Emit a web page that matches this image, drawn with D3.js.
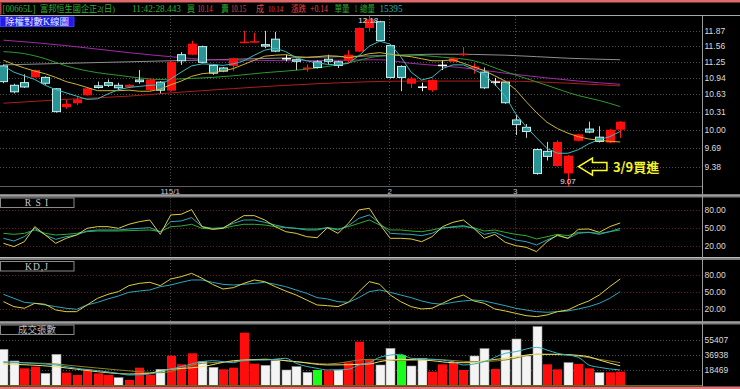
<!DOCTYPE html>
<html><head><meta charset="utf-8">
<script src="https://cdn.jsdelivr.net/npm/d3@7/dist/d3.min.js"></script>
<style>html,body{margin:0;padding:0;background:#000;overflow:hidden;}svg{display:block}</style>
</head><body>
<svg id="chart" width="740" height="389"></svg>
<script>
// ---------------- data ----------------
const opens  = [11.18,10.81,10.86,10.95,10.96,10.745,10.40,10.47,10.615,10.80,10.86,10.81,10.77,10.91,10.71,10.87,10.70,11.40,11.39,11.56,11.19,11.14,11.17,11.63,11.64,11.60,11.71,11.31,11.30,11.11,11.26,11.31,11.26,11.27,11.45,11.93,12.07,11.58,11.17,10.83,10.765,10.71,11.18,11.25,11.39,11.12,11.06,10.86,10.87,10.18,10.05,9.67,9.64,9.39,9.27,9.81,10.02,9.88,9.78,10.00];
const highs  = [11.20,10.83,11.01,11.10,10.97,10.75,10.53,10.60,10.75,10.87,10.91,10.85,10.82,11.09,10.92,10.88,11.26,11.44,11.67,11.57,11.20,11.15,11.33,11.87,11.83,11.87,11.85,11.39,11.31,11.20,11.28,11.39,11.27,11.48,11.94,12.18,12.08,11.59,11.18,10.96,10.85,10.91,11.28,11.33,11.54,11.22,11.14,10.94,10.88,10.26,10.10,9.68,9.79,9.82,9.57,9.93,10.14,10.06,10.01,10.15];
const lows   = [10.84,10.65,10.75,10.94,10.81,10.30,10.37,10.44,10.61,10.74,10.77,10.71,10.76,10.83,10.70,10.65,10.69,11.19,11.38,11.22,11.00,11.05,11.07,11.62,11.62,11.52,11.44,11.26,11.09,11.06,11.12,11.20,11.13,11.22,11.44,11.85,11.65,10.93,10.69,10.75,10.69,10.68,11.09,11.24,11.36,11.02,10.73,10.79,10.46,9.91,9.86,9.25,9.48,9.38,9.07,9.80,9.94,9.78,9.77,9.86];
const closes = [10.86,10.67,10.76,11.09,10.83,10.31,10.46,10.54,10.745,10.75,10.79,10.745,10.81,10.86,10.91,10.70,11.25,11.26,11.61,11.23,11.02,11.06,11.32,11.65,11.66,11.55,11.45,11.31,11.25,11.14,11.13,11.25,11.17,11.39,11.93,12.11,11.66,10.94,10.94,10.93,10.765,10.90,11.18,11.32,11.41,11.16,10.745,10.86,10.47,10.08,9.96,9.26,9.54,9.79,9.56,9.92,9.95,9.79,10.00,10.14];

const ma5  = [11.17,11.05,10.98,10.91,10.80,10.72,10.66,10.60,10.54,10.55,10.64,10.72,10.76,10.78,10.80,10.81,10.92,11.05,11.17,11.21,11.20,11.18,11.21,11.27,11.38,11.48,11.52,11.45,11.33,11.27,11.23,11.20,11.19,11.22,11.37,11.56,11.66,11.60,11.35,11.05,10.90,10.95,11.12,11.19,11.19,11.10,11.00,10.82,10.60,10.28,10.05,9.86,9.68,9.60,9.60,9.66,9.76,9.83,9.88,9.97];
const ma10 = [11.28,11.20,11.13,11.07,11.02,10.95,10.87,10.82,10.76,10.70,10.70,10.70,10.71,10.69,10.69,10.73,10.81,10.88,10.97,11.02,11.04,11.07,11.12,11.20,11.28,11.36,11.38,11.39,11.35,11.34,11.35,11.37,11.36,11.33,11.36,11.41,11.43,11.40,11.37,11.35,11.31,11.27,11.27,11.29,11.22,11.15,11.08,10.98,10.88,10.72,10.50,10.30,10.13,10.02,9.94,9.88,9.84,9.82,9.80,9.79];
// slower averages read at sample days: [day index, value]
const ma20  = [[0,11.45],[2,11.41],[4,11.31],[6,11.17],[9,11.04],[11,10.99],[13,10.94],[15,10.91],[18,10.93],[20,10.95],[22,10.98],[25,11.04],[27,11.07],[30,11.13],[33,11.23],[36,11.36],[39,11.38],[42,11.34],[45,11.27],[48,11.06],[50,10.93],[52,10.80],[55,10.61],[57,10.52],[59,10.41]];
const ma60  = [[0,11.68],[3,11.63],[6,11.57],[9,11.50],[12,11.43],[16,11.35],[20,11.29],[24,11.28],[28,11.27],[32,11.28],[36,11.29],[39,11.22],[42,11.17],[45,11.11],[48,11.03],[52,10.94],[55,10.88],[59,10.82]];
const ma120 = [[0,11.19],[10,11.24],[20,11.29],[30,11.34],[36,11.37],[42,11.40],[48,11.38],[54,11.32],[59,11.29]];
const ma240 = [[0,10.47],[6,10.54],[12,10.60],[16,10.66],[22,10.74],[30,10.83],[39,10.88],[48,10.88],[54,10.84],[59,10.79]];

const rsiFast = [24.5,18.9,27.3,52.5,38.5,24.5,32.9,38.5,49.7,52.5,52.5,49.7,56.5,60.9,63.7,39.6,72.2,73.3,81.1,52.5,48.0,49.7,60.9,71.0,71.0,63.7,52.5,44.1,41.3,35.7,34.0,50.8,41.3,58.1,80.6,83.4,56.5,32.9,32.9,31.8,27.3,35.7,52.5,59.8,63.7,49.7,32.9,39.6,26.2,20.6,17.8,10.5,27.3,38.5,32.9,48.0,48.6,43.0,52.5,58.7];
const rsiMid  = [32.9,28.4,35.7,49.7,38.5,31.2,35.7,38.5,45.2,46.9,46.9,46.9,48.6,49.7,50.8,44.1,60.9,62.1,67.7,52.5,49.7,50.8,58.1,63.7,63.7,59.8,55.3,51.4,49.7,46.9,46.9,50.8,46.9,54.2,66.5,72.2,58.1,41.3,40.2,39.6,37.4,41.3,49.7,52.5,54.2,49.7,39.6,43.0,35.7,30.1,27.3,21.7,30.1,37.4,32.9,41.3,43.0,39.6,44.1,49.7];
const rsiSlow = [41.3,39.6,41.3,46.9,41.3,38.5,39.6,41.3,44.1,45.2,45.2,45.2,45.8,46.4,46.9,44.1,52.5,53.6,56.5,49.7,48.6,49.7,53.6,56.5,56.5,55.3,52.5,50.8,49.7,48.6,48.6,50.8,48.6,52.5,58.1,63.7,55.3,46.9,46.9,45.2,44.1,46.9,50.8,51.4,52.5,50.8,45.2,46.9,43.0,39.6,37.4,31.8,35.7,39.6,37.4,43.0,43.0,41.3,44.1,46.9];
const kVals = [33.4,24.7,21.8,30.5,28.7,18.8,15.9,15.9,27.6,39.2,46.2,50.9,61.4,65.4,67.2,61.4,73.0,77.1,82.9,74.2,63.7,55.5,57.9,65.4,71.3,68.4,59.6,52.0,45.0,36.3,27.6,26.4,24.7,32.2,50.9,68.4,63.7,45.0,33.4,24.7,20.6,21.8,30.5,39.2,45.0,34.6,30.5,20.6,17.1,13.0,8.9,7.2,10.1,15.9,18.8,27.6,34.6,45.0,59.6,73.0];
const dVals = [46.2,39.2,32.2,30.5,27.6,24.7,21.8,20.0,27.6,32.2,38.1,43.3,49.7,52.0,53.8,59.6,62.5,67.2,71.3,71.3,67.2,63.7,62.5,63.7,65.4,67.2,63.7,59.6,53.8,48.0,40.4,38.1,33.4,32.2,40.4,50.9,53.8,49.7,45.0,40.4,34.6,30.5,28.7,32.2,34.6,36.3,34.6,30.5,26.4,21.8,18.8,15.9,14.8,15.9,17.1,20.6,24.7,30.5,39.2,50.9];

const volumes = [44040,29834,20904,22933,14815,37952,15627,12786,19686,14815,12786,9539,6697,21716,12786,19686,36328,25775,39169,29022,22122,19686,21716,64335,26586,24557,30240,18874,22933,16033,18874,18063,18874,28210,53376,31863,24963,45258,37140,23745,33081,16845,25775,29022,18874,35922,44852,20092,43228,56623,35922,71641,25775,19686,27804,26181,20904,15627,16033,16845];
const volKind = ["w","w","r","r","w","w","r","r","r","r","r","w","r","r","r","w","r","r","r","w","w","r","r","r","r","w","w","w","w","w","g","r","w","r","r","r","w","w","g","w","w","r","r","r","r","w","w","r","w","w","w","w","r","r","w","r","r","w","r","r"];
const volMa1 = [[0,29000],[3,27000],[5,25000],[7,20900],[9,18100],[11,14800],[12,12800],[14,14000],[15,16800],[17,22900],[19,29000],[20,30200],[22,27800],[23,31000],[25,31000],[27,33100],[28,27000],[30,20900],[31,18900],[33,19700],[34,25000],[35,27800],[36,34300],[38,38000],[39,33100],[41,31900],[43,29000],[44,25000],[46,29000],[48,39200],[49,41200],[51,46500],[52,43200],[53,39200],[55,34300],[56,25000],[57,22100],[59,18900]];
const volMa2 = [[0,26200],[5,22900],[9,16800],[12,14000],[14,14800],[15,18100],[19,22900],[22,30200],[25,31900],[28,29000],[31,25000],[35,26200],[36,29000],[38,31900],[41,30200],[43,27800],[45,27800],[46,30200],[48,33100],[49,35100],[51,38000],[53,38000],[55,36700],[56,35100],[57,31000],[59,24000]];
const volMa3 = [[0,27800],[4,27000],[7,23700],[11,18900],[15,15600],[19,27000],[22,29000],[25,31900],[28,29000],[31,26200],[35,31900],[38,30200],[41,31900],[45,29000],[48,31000],[51,38000],[54,37100],[57,31900],[59,27800]];

const priceTicks = [11.87,11.56,11.25,10.94,10.63,10.31,10.00,9.69,9.38];
const oscTicks = [80,50,20];
const volTicks = [55407,36938,18469];
const monthIdx = [16,37,49];
const monthLabels = ["115/1","2","3"];

// ---------------- drawing ----------------
const AX = 702;
const svg = d3.select('#chart');
svg.append('rect').attr('width',740).attr('height',389).attr('fill','#000');

const x  = d3.scaleLinear().domain([0,59]).range([3.45,620.2]);
const yP = d3.scaleLog().domain([d3.min(lows), d3.max(highs)]).range([186,16]);
const yR = d3.scaleLinear().domain([20,80]).range([246,210.3]);
const yK = d3.scaleLinear().domain([20,80]).range([309.3,275]);
const yV = d3.scaleLinear().domain([0,55407]).range([385.5,340]);

const defs = svg.append('defs');
function clip(id,y0,y1){defs.append('clipPath').attr('id',id).append('rect').attr('x',0).attr('y',y0).attr('width',AX).attr('height',y1-y0);}
clip('cm',16,186.5); clip('cr',197.5,257); clip('ck',260,321.5); clip('cv',324.5,385.5);

// header
svg.append('rect').attr('x',0).attr('y',0).attr('width',740).attr('height',2.5).attr('fill','#e06a6a');
svg.append('rect').attr('x',0).attr('y',2.5).attr('width',1.5).attr('height',12).attr('fill','#b84040');
const G='#2fae2f', R='#e04848', T='#27b3a3';
const header = [
  {t:'[00665L]',x:2.5,w:33,c:G,f:10},{t:'富邦恒生國企正2(日)',x:40,w:75,c:G,f:9},
  {t:'11:42:28.443',x:132,w:49,c:G,f:10},{t:'買',x:187,w:8,c:G,f:9},{t:'10.14',x:197.5,w:15,c:R,f:9.5},
  {t:'賣',x:221,w:8,c:G,f:9},{t:'10.15',x:231,w:15,c:R,f:9.5},{t:'成',x:256,w:8,c:R,f:9},
  {t:'10.14',x:268,w:15,c:R,f:9},{t:'漲跌',x:291,w:15,c:R,f:9},{t:'+0.14',x:310,w:18,c:R,f:10},
  {t:'單量',x:334.5,w:15,c:G,f:9},{t:'1',x:354.5,w:3,c:G,f:10},{t:'總量',x:360,w:15,c:G,f:9},{t:'15395',x:379.5,w:23,c:T,f:10}];
svg.append('g').selectAll('text').data(header).join('text')
  .attr('x',d=>d.x).attr('y',12).attr('fill',d=>d.c)
  .attr('textLength',d=>d.w).attr('lengthAdjust','spacingAndGlyphs')
  .style('font-family',"'Liberation Serif','Noto Sans CJK TC',serif").style('font-size',d=>d.f+'px')
  .text(d=>d.t);
svg.append('line').attr('x1',0).attr('x2',740).attr('y1',15.5).attr('y2',15.5).attr('stroke','#a8a8a8');

// separators
function sep(y){
  svg.append('rect').attr('x',0).attr('y',y).attr('width',740).attr('height',3).attr('fill','#7c7c7c');
  svg.append('line').attr('x1',0).attr('x2',740).attr('y1',y+0.5).attr('y2',y+0.5).attr('stroke','#bdbdbd');
}
svg.append('line').attr('x1',0).attr('x2',AX).attr('y1',186.5).attr('y2',186.5).attr('stroke','#5e5e5e');
sep(194.5); sep(257); sep(321.5);
svg.append('rect').attr('x',0).attr('y',386.5).attr('width',740).attr('height',2.5).attr('fill','#e07878');

// horizontal grids
function hgrid(y,color){svg.append('line').attr('x1',0).attr('x2',AX).attr('y1',Math.round(y)+0.5).attr('y2',Math.round(y)+0.5).attr('stroke',color).attr('stroke-dasharray','1,2');}
priceTicks.forEach(t=>hgrid(yP(t),'#4e4e4e'));
oscTicks.forEach(t=>{hgrid(yR(t),'#6e1616'); hgrid(yK(t),'#6e1616');});
volTicks.forEach(t=>hgrid(yV(t),'#4e4e4e'));

// month verticals
[[16,186.5],[197.5,257],[260,321.5],[324.5,385.5]].forEach(([a,b])=>{
  monthIdx.forEach(i=>{
    const xx=Math.round(x(i))-0.5;
    svg.append('line').attr('x1',xx).attr('x2',xx).attr('y1',a).attr('y2',b).attr('stroke','#4e4e4e').attr('stroke-dasharray','1,2');
  });
});
svg.selectAll('text.month').data(monthIdx).join('text').attr('class','month')
  .attr('x',d=>x(d)-0.5).attr('y',193.5).attr('text-anchor','middle').attr('fill','#c8c8c8')
  .style('font-family',"'Liberation Sans',Arial,sans-serif").style('font-size','8px')
  .text((d,i)=>monthLabels[i]);

// right axis
svg.append('line').attr('x1',AX+0.5).attr('x2',AX+0.5).attr('y1',15.5).attr('y2',386.5).attr('stroke','#9c9c9c');
function rlabel(y,txt){svg.append('text').attr('x',704.5).attr('y',y+3).attr('fill','#dcdcdc')
  .style('font-family',"'Liberation Sans',Arial,sans-serif").style('font-size','8.5px').text(txt);}
priceTicks.forEach(t=>rlabel(yP(t),t.toFixed(2)));
oscTicks.forEach(t=>{rlabel(yR(t),t.toFixed(2)); rlabel(yK(t),t.toFixed(2));});
volTicks.forEach(t=>rlabel(yV(t),String(t)));

// panel title boxes
function box(y,txt,fill,stroke,color,ls){
  svg.append('rect').attr('x',0.5).attr('y',y+0.5).attr('width',73.5).attr('height',9.5).attr('fill',fill).attr('stroke',stroke);
  svg.append('text').attr('x',37).attr('y',y+8.5).attr('text-anchor','middle').attr('fill',color)
    .style('font-family',"'Liberation Serif','Noto Sans CJK TC',serif").style('font-size','9.5px').style('letter-spacing',ls)
    .text(txt);
}

// ---- main panel ----
const main = svg.append('g').attr('clip-path','url(#cm)');
const lineArr = (sc)=>d3.line().x((d,i)=>x(i)).y(d=>sc(d));
const linePts = (sc)=>d3.line().x(d=>x(d[0])).y(d=>sc(d[1])).curve(d3.curveMonotoneX);
main.append('path').datum(ma240).attr('d',linePts(yP)).attr('fill','none').attr('stroke','#b01c1c').attr('stroke-width',1);
main.append('path').datum(ma120).attr('d',linePts(yP)).attr('fill','none').attr('stroke','#8e8e8e').attr('stroke-width',1);
main.append('path').datum(ma60).attr('d',linePts(yP)).attr('fill','none').attr('stroke','#a22aa8').attr('stroke-width',1);
main.append('path').datum(ma20).attr('d',linePts(yP)).attr('fill','none').attr('stroke','#2e9a2e').attr('stroke-width',1);

// candles
const cidx = d3.range(opens.length);
const cg = main.append('g');
cidx.forEach(i=>{
  const o=opens[i], c=closes[i], cx=Math.round(x(i));
  const kind = c>o ? 'up' : (c<o ? 'down' : 'flat');
  const wickCol = kind==='up' ? '#ff1a1a' : (kind==='down' ? '#cfcfcf' : '#ffffff');
  cg.append('line').attr('x1',cx+0.5).attr('x2',cx+0.5).attr('y1',yP(highs[i])).attr('y2',yP(lows[i])).attr('stroke',wickCol);
  const top=yP(Math.max(o,c)), bot=yP(Math.min(o,c));
  if(kind==='flat'){
    cg.append('rect').attr('x',cx-4).attr('y',top-0.75).attr('width',9).attr('height',1.5).attr('fill','#ffffff');
  } else if(kind==='up'){
    cg.append('rect').attr('x',cx-4).attr('y',top).attr('width',9).attr('height',Math.max(1.5,bot-top)).attr('fill','#ff0d0d');
  } else {
    cg.append('rect').attr('x',cx-3.5).attr('y',top+0.5).attr('width',8).attr('height',Math.max(1,bot-top-1)).attr('fill','#2a9494').attr('stroke','#c4f2f2').attr('stroke-width',1);
  }
});
main.append('path').datum(ma10).attr('d',lineArr(yP)).attr('fill','none').attr('stroke','#c9b43a').attr('stroke-width',1);
main.append('path').datum(ma5).attr('d',lineArr(yP)).attr('fill','none').attr('stroke','#3cbcbc').attr('stroke-width',1);

// extreme labels
const iMax = d3.maxIndex(highs), iMin = d3.minIndex(lows);
svg.append('text').attr('x',x(iMax)-1).attr('y',yP(highs[iMax])+7).attr('text-anchor','middle').attr('fill','#e6e6e6')
  .style('font-family',"'Liberation Sans',Arial,sans-serif").style('font-size','8px').text(highs[iMax].toFixed(2));
svg.append('text').attr('x',x(iMin)).attr('y',yP(lows[iMin])-2).attr('text-anchor','middle').attr('fill','#e6e6e6')
  .style('font-family',"'Liberation Sans',Arial,sans-serif").style('font-size','8px').text(lows[iMin].toFixed(2));

// annotation arrow + text
const ax0 = x(iMin)+10.5, ay0 = yP(9.38);
const arrowPts = [[0,0],[14,-8.5],[14,-4],[28.5,-4],[28.5,4],[14,4],[14,8.5]].map(p=>[ax0+p[0],ay0+p[1]]);
svg.append('polygon').attr('points',arrowPts.map(p=>p.join(',')).join(' ')).attr('fill','none').attr('stroke','#ffff1e').attr('stroke-width',1.5).attr('stroke-linejoin','miter');
svg.append('text').attr('x',ax0+34.5).attr('y',ay0+5).attr('fill','#f2f22a')
  .style('font-family',"'Noto Sans CJK TC',sans-serif").style('font-size','13px').style('font-weight','bold').text('3/9買進');

box(16.5,'除權對數K線圖','#1c1cf0','#3a3aff','#e8e8ff','0px');

// ---- RSI ----
const rg = svg.append('g').attr('clip-path','url(#cr)');
rg.append('path').datum(rsiSlow).attr('d',lineArr(yR)).attr('fill','none').attr('stroke','#2fae2f');
rg.append('path').datum(rsiMid).attr('d',lineArr(yR)).attr('fill','none').attr('stroke','#2fa8b8');
rg.append('path').datum(rsiFast).attr('d',lineArr(yR)).attr('fill','none').attr('stroke','#dccf3c');
box(197.5,'R S I','#000','#8a8a8a','#c8c8c8','1px');

// ---- KD ----
const kg = svg.append('g').attr('clip-path','url(#ck)');
kg.append('path').datum(dVals).attr('d',lineArr(yK)).attr('fill','none').attr('stroke','#2ea6bc');
kg.append('path').datum(kVals).attr('d',lineArr(yK)).attr('fill','none').attr('stroke','#dccf3c');
box(261,'KD,J','#000','#8a8a8a','#c8c8c8','1px');

// ---- Volume ----
const vg = svg.append('g').attr('clip-path','url(#cv)');
const vCol = {r:'#ff0d0d', w:'#f4f4f4', g:'#1aff1a'};
vg.selectAll('rect.v').data(volumes).join('rect').attr('class','v')
  .attr('x',(d,i)=>Math.round(x(i))-4).attr('width',9)
  .attr('y',d=>yV(d)).attr('height',d=>yV(0)-yV(d))
  .attr('fill',(d,i)=>vCol[volKind[i]])
  .attr('stroke',(d,i)=>volKind[i]==='w'?'#9a9a9a':'none').attr('stroke-width',0.6);
vg.append('path').datum(volMa3).attr('d',linePts(yV)).attr('fill','none').attr('stroke','#8f8420');
vg.append('path').datum(volMa2).attr('d',linePts(yV)).attr('fill','none').attr('stroke','#e8e070');
vg.append('path').datum(volMa1).attr('d',linePts(yV)).attr('fill','none').attr('stroke','#3ab4c4');
svg.append('line').attr('x1',0).attr('x2',AX).attr('y1',385.5).attr('y2',385.5).attr('stroke','#6c6a10');
box(324.5,'成交張數','#000','#8a8a8a','#bdbdbd','0px');
</script>
</body></html>
